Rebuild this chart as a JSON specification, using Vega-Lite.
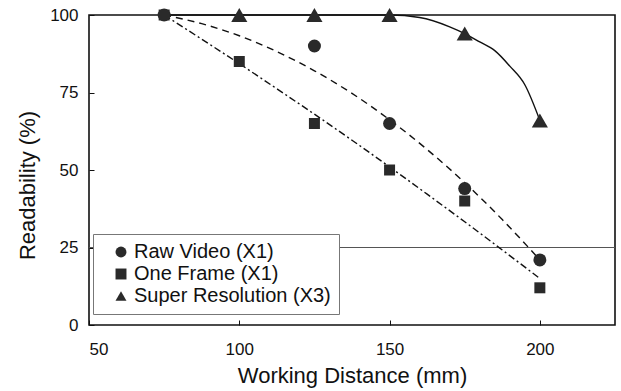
{
  "$schema": "https://vega.github.io/schema/vega-lite/v6.json",
  "width": 526,
  "height": 310,
  "autosize": {"type": "none"},
  "padding": {"left": 89, "top": 15, "right": 6, "bottom": 66},
  "background": "white",
  "config": {
    "font": "Liberation Sans",
    "view": {"stroke": "#111", "strokeWidth": 1.6},
    "axis": {"domain": false, "grid": false, "labelColor": "#111", "titleColor": "#111", "labelFont": "Liberation Sans", "titleFont": "Liberation Sans", "titleFontWeight": "normal", "tickColor": "#111"},
    "legend": {"labelFont": "Liberation Sans", "labelFontSize": 20, "labelColor": "#111", "labelLimit": 400}
  },
  "datasets": {
    "points": [
      {"series": "Raw Video (X1)", "x": 75, "y": 100},
      {"series": "Raw Video (X1)", "x": 125, "y": 90},
      {"series": "Raw Video (X1)", "x": 150, "y": 65},
      {"series": "Raw Video (X1)", "x": 175, "y": 44},
      {"series": "Raw Video (X1)", "x": 200, "y": 21},
      {"series": "One Frame (X1)", "x": 75, "y": 100},
      {"series": "One Frame (X1)", "x": 100, "y": 85},
      {"series": "One Frame (X1)", "x": 125, "y": 65},
      {"series": "One Frame (X1)", "x": 150, "y": 50},
      {"series": "One Frame (X1)", "x": 175, "y": 40},
      {"series": "One Frame (X1)", "x": 200, "y": 12},
      {"series": "Super Resolution (X3)", "x": 100, "y": 100},
      {"series": "Super Resolution (X3)", "x": 125, "y": 100},
      {"series": "Super Resolution (X3)", "x": 150, "y": 100},
      {"series": "Super Resolution (X3)", "x": 175, "y": 94},
      {"series": "Super Resolution (X3)", "x": 200, "y": 66}
    ],
    "curves": [
      {"series": "Raw Video (X1)", "x": 75, "y": 100},
      {"series": "Raw Video (X1)", "x": 87.5, "y": 97.2},
      {"series": "Raw Video (X1)", "x": 100, "y": 93.3},
      {"series": "Raw Video (X1)", "x": 112.5, "y": 88.2},
      {"series": "Raw Video (X1)", "x": 125, "y": 82},
      {"series": "Raw Video (X1)", "x": 137.5, "y": 74.7},
      {"series": "Raw Video (X1)", "x": 150, "y": 66.2},
      {"series": "Raw Video (X1)", "x": 162.5, "y": 56.6},
      {"series": "Raw Video (X1)", "x": 175, "y": 45.9},
      {"series": "Raw Video (X1)", "x": 187.5, "y": 34},
      {"series": "Raw Video (X1)", "x": 200, "y": 21},
      {"series": "One Frame (X1)", "x": 75, "y": 100},
      {"series": "One Frame (X1)", "x": 87.5, "y": 92.2},
      {"series": "One Frame (X1)", "x": 100, "y": 84.3},
      {"series": "One Frame (X1)", "x": 112.5, "y": 76.2},
      {"series": "One Frame (X1)", "x": 125, "y": 68},
      {"series": "One Frame (X1)", "x": 137.5, "y": 59.6},
      {"series": "One Frame (X1)", "x": 150, "y": 51},
      {"series": "One Frame (X1)", "x": 162.5, "y": 42.2},
      {"series": "One Frame (X1)", "x": 175, "y": 33.3},
      {"series": "One Frame (X1)", "x": 187.5, "y": 24.2},
      {"series": "One Frame (X1)", "x": 200, "y": 15},
      {"series": "Super Resolution (X3)", "x": 75, "y": 100},
      {"series": "Super Resolution (X3)", "x": 100, "y": 100},
      {"series": "Super Resolution (X3)", "x": 125, "y": 100},
      {"series": "Super Resolution (X3)", "x": 150, "y": 100},
      {"series": "Super Resolution (X3)", "x": 160, "y": 99.2},
      {"series": "Super Resolution (X3)", "x": 170, "y": 96.2},
      {"series": "Super Resolution (X3)", "x": 175, "y": 94},
      {"series": "Super Resolution (X3)", "x": 180, "y": 91.3},
      {"series": "Super Resolution (X3)", "x": 185, "y": 88.5},
      {"series": "Super Resolution (X3)", "x": 190, "y": 83.5},
      {"series": "Super Resolution (X3)", "x": 195, "y": 77.5},
      {"series": "Super Resolution (X3)", "x": 200, "y": 66}
    ],
    "grid": [{"y": 25}]
  },
  "layer": [
    {
      "data": {"name": "grid"},
      "mark": {"type": "rule", "color": "#555", "strokeWidth": 1},
      "encoding": {
        "y": {"field": "y", "type": "quantitative", "scale": {"domain": [0, 100], "nice": false},
          "axis": {"values": [0, 25, 50, 75, 100], "title": "Readability (%)", "labelFontSize": 17, "titleFontSize": 22, "tickSize": -5, "labelPadding": 16, "titleX": -62, "titleY": 170, "titleBaseline": "middle", "titleAlign": "center", "titleAngle": -90}}
      }
    },
    {
      "data": {"name": "curves"},
      "transform": [{"filter": "datum.series == 'Raw Video (X1)'"}],
      "mark": {"type": "line", "interpolate": "monotone", "color": "#111", "strokeWidth": 1.4, "strokeDash": [7, 5]},
      "encoding": {
        "x": {"field": "x", "type": "quantitative", "scale": {"domain": [50, 225], "nice": false},
          "axis": {"values": [50, 100, 150, 200], "title": "Working Distance (mm)", "labelFontSize": 17, "titleFontSize": 22, "tickSize": -5, "labelPadding": 21, "labelBaseline": "top", "titleX": 263, "titleY": 50, "titleBaseline": "middle", "titleAlign": "center"}},
        "y": {"field": "y", "type": "quantitative"}
      }
    },
    {
      "data": {"name": "curves"},
      "transform": [{"filter": "datum.series == 'One Frame (X1)'"}],
      "mark": {"type": "line", "interpolate": "monotone", "color": "#111", "strokeWidth": 1.4, "strokeDash": [7, 3, 2, 3]},
      "encoding": {
        "x": {"field": "x", "type": "quantitative"},
        "y": {"field": "y", "type": "quantitative"}
      }
    },
    {
      "data": {"name": "curves"},
      "transform": [{"filter": "datum.series == 'Super Resolution (X3)'"}],
      "mark": {"type": "line", "interpolate": "monotone", "color": "#111", "strokeWidth": 1.4},
      "encoding": {
        "x": {"field": "x", "type": "quantitative"},
        "y": {"field": "y", "type": "quantitative"}
      }
    },
    {
      "data": {"name": "points"},
      "transform": [{"filter": "datum.series == 'Raw Video (X1)'"}],
      "mark": {"type": "point", "filled": true, "opacity": 1, "color": "#2a2a2a", "size": 169},
      "encoding": {
        "x": {"field": "x", "type": "quantitative"},
        "y": {"field": "y", "type": "quantitative"},
        "shape": {"field": "series", "type": "nominal",
          "scale": {"domain": ["Raw Video (X1)", "One Frame (X1)", "Super Resolution (X3)"], "range": ["circle", "square", "triangle-up"]},
          "legend": {"title": null, "orient": "none", "legendX": 4, "legendY": 219, "fillColor": "white", "strokeColor": "#777", "padding": 8, "symbolSize": 120, "symbolFillColor": "#2a2a2a", "symbolStrokeColor": "#2a2a2a", "symbolOffset": 10, "labelOffset": 3, "rowPadding": 2}}
      }
    },
    {
      "data": {"name": "points"},
      "transform": [{"filter": "datum.series == 'One Frame (X1)'"}],
      "mark": {"type": "point", "filled": true, "opacity": 1, "color": "#2a2a2a", "size": 121},
      "encoding": {
        "x": {"field": "x", "type": "quantitative"},
        "y": {"field": "y", "type": "quantitative"},
        "shape": {"field": "series", "type": "nominal"}
      }
    },
    {
      "data": {"name": "points"},
      "transform": [{"filter": "datum.series == 'Super Resolution (X3)'"}],
      "mark": {"type": "point", "filled": true, "opacity": 1, "color": "#2a2a2a", "size": 260},
      "encoding": {
        "x": {"field": "x", "type": "quantitative"},
        "y": {"field": "y", "type": "quantitative"},
        "shape": {"field": "series", "type": "nominal"}
      }
    }
  ]
}
